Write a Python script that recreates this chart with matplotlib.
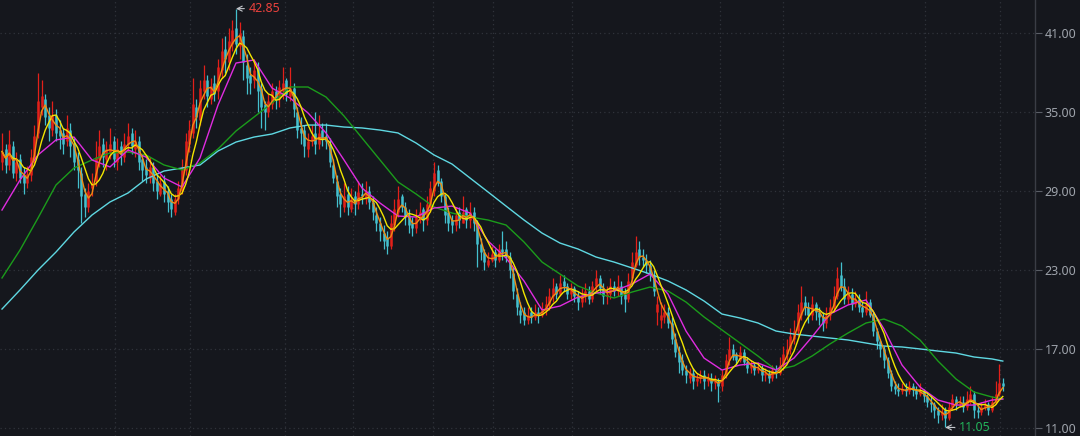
import matplotlib
matplotlib.use("Agg")
import matplotlib.pyplot as plt
import numpy as np
import pandas as pd

plt.rcParams["font.family"] = ["Noto Sans", "DejaVu Sans"]

# daily candles (left to right)
opens = [
    31.2, 32.2, 31.0, 32.4, 30.4, 31.4, 30.2, 29.6, 30.2, 31.4,
    33.4, 35.4, 36.0, 34.8, 33.6, 34.8, 33.6, 33.4, 32.8, 33.6,
    32.6, 31.4, 30.4, 28.8, 27.8, 29.2, 29.8, 31.4, 32.6, 31.4,
    32.0, 32.8, 31.2, 32.4, 31.6, 32.6, 33.4, 32.2, 32.8, 31.4,
    30.8, 30.0, 30.8, 29.8, 28.8, 29.8, 29.0, 28.4, 27.4, 28.4,
    29.0, 30.6, 32.6, 33.4, 35.4, 34.4, 36.6, 37.4, 36.0, 37.2,
    36.6, 38.2, 39.8, 38.8, 40.2, 41.4, 40.0, 40.8, 38.6, 37.8,
    37.4, 38.4, 36.8, 35.6, 35.0, 35.6, 36.6, 36.0, 36.6, 37.4,
    36.2, 36.8, 35.0, 33.8, 33.6, 32.2, 32.8, 33.4, 32.6, 33.6,
    33.2, 32.6, 31.0, 29.8, 28.8, 27.8, 28.8, 27.6, 28.6, 28.0,
    28.8, 28.4, 29.0, 28.2, 27.2, 26.6, 25.8, 25.4, 24.8, 26.4,
    27.4, 28.6, 27.8, 27.2, 26.6, 26.2, 27.0, 27.6, 26.8, 27.8,
    29.0, 30.6, 29.8, 28.6, 27.4, 26.8, 26.4, 27.4, 26.6, 27.6,
    26.8, 27.4, 26.6, 25.0, 24.4, 23.4, 23.8, 24.4, 23.8, 24.6,
    24.6, 24.0, 22.8, 21.2, 20.0, 19.8, 19.2, 19.8, 19.4, 19.8,
    19.6, 20.0, 20.4, 21.0, 21.8, 21.2, 22.2, 21.8, 21.2, 21.6,
    21.0, 20.6, 21.0, 21.4, 20.8, 21.8, 22.4, 21.6, 21.0, 21.2,
    21.8, 21.4, 21.8, 21.2, 20.8, 22.4, 23.4, 24.6, 24.0, 23.8,
    23.4, 22.6, 19.8, 19.2, 19.4, 19.8, 19.0, 17.8, 16.8, 16.2,
    15.4, 14.8, 15.2, 14.6, 14.8, 15.0, 14.6, 14.8, 14.4, 14.6,
    14.2, 15.0, 16.2, 17.0, 16.6, 16.2, 16.8, 16.0, 15.6, 15.8,
    15.4, 15.6, 15.0, 15.2, 14.8, 15.4, 15.2, 15.8, 16.6, 17.0,
    17.8, 18.4, 19.6, 20.6, 20.2, 19.6, 20.4, 19.8, 19.4, 19.0,
    19.6, 20.2, 21.0, 22.6, 21.8, 20.8, 21.2, 20.4, 20.8, 20.2,
    19.8, 20.6, 19.6, 18.4, 17.6, 17.0, 16.2, 15.2, 14.2, 14.0,
    13.8, 14.0, 13.8, 14.2, 13.9, 13.6, 13.8, 13.4, 13.0, 12.8,
    12.4, 12.0, 12.4, 11.8, 12.6, 13.2, 12.8, 13.0, 12.6, 13.0,
    13.6, 12.4, 12.2, 12.6, 12.8, 12.4, 13.0, 13.6, 14.4,
]
highs = [
    33.4, 32.6, 33.6, 32.8, 32.0, 31.8, 30.8, 30.9, 32.2, 34.0,
    38.0, 37.4, 36.4, 35.4, 35.8, 35.2, 34.4, 33.8, 34.8, 34.2,
    33.0, 32.0, 30.8, 29.2, 29.6, 30.4, 32.8, 33.6, 33.0, 32.8,
    33.8, 33.2, 33.0, 32.8, 33.4, 34.2, 33.8, 33.6, 33.2, 31.8,
    31.4, 31.6, 31.2, 30.2, 30.2, 30.2, 29.4, 28.8, 28.8, 29.8,
    31.4, 33.4, 34.4, 37.6, 36.0, 37.4, 38.6, 37.8, 37.6, 37.8,
    39.0, 40.6, 40.8, 41.4, 42.0, 42.85, 41.8, 41.2, 39.4, 38.4,
    39.0, 38.8, 37.2, 35.8, 36.4, 37.2, 37.0, 37.4, 38.4, 37.6,
    38.4, 37.2, 35.4, 34.6, 34.0, 33.4, 34.0, 35.0, 34.8, 34.2,
    34.2, 33.0, 31.4, 30.2, 29.2, 29.6, 29.4, 29.2, 29.0, 29.8,
    29.6, 29.8, 29.4, 28.6, 27.8, 27.0, 26.4, 26.0, 27.2, 28.4,
    29.4, 28.8, 28.2, 27.6, 27.0, 27.6, 28.2, 27.8, 28.6, 29.8,
    31.2, 31.0, 30.0, 28.8, 27.8, 27.2, 27.8, 27.8, 28.6, 27.8,
    28.2, 27.8, 26.8, 25.4, 24.6, 24.4, 24.8, 24.6, 25.0, 26.0,
    25.2, 24.4, 23.2, 21.6, 20.6, 20.2, 20.2, 20.2, 20.4, 20.2,
    20.6, 21.0, 21.6, 22.4, 22.0, 22.6, 22.6, 22.0, 22.0, 21.8,
    21.4, 21.6, 22.0, 21.8, 22.2, 23.0, 22.6, 22.0, 21.8, 22.4,
    22.2, 22.6, 22.2, 21.6, 22.8, 24.4, 25.6, 25.2, 24.6, 24.2,
    23.8, 23.0, 21.0, 20.6, 20.4, 20.2, 19.4, 18.2, 17.2, 16.6,
    15.8, 15.6, 15.6, 15.2, 15.4, 15.4, 15.2, 15.2, 15.0, 14.8,
    15.4, 16.6, 17.9, 17.4, 16.8, 17.2, 17.0, 16.4, 16.2, 16.0,
    16.0, 15.8, 15.6, 15.4, 15.8, 15.8, 16.4, 17.2, 17.8, 18.6,
    19.2, 20.4, 21.8, 21.0, 20.6, 21.0, 20.6, 20.2, 19.8, 20.2,
    20.8, 21.8, 23.2, 23.6, 22.4, 21.8, 21.6, 21.4, 21.2, 20.6,
    21.4, 20.8, 19.8, 18.6, 17.8, 17.2, 16.4, 15.4, 14.6, 14.4,
    14.4, 14.4, 14.6, 14.4, 14.2, 14.4, 14.0, 13.6, 13.4, 13.0,
    12.6, 12.8, 12.6, 13.0, 13.6, 13.4, 13.4, 13.4, 13.8, 14.2,
    13.8, 12.8, 13.0, 13.2, 13.0, 13.4, 14.6, 15.9, 14.8,
]
lows = [
    30.6, 30.4, 30.6, 30.0, 29.8, 29.6, 28.8, 29.2, 29.8, 31.0,
    33.0, 34.8, 34.0, 32.8, 33.2, 32.8, 32.2, 31.8, 32.4, 31.6,
    30.6, 29.2, 26.6, 27.0, 27.4, 28.6, 29.4, 30.8, 30.8, 30.6,
    31.4, 30.8, 30.6, 31.0, 31.2, 32.0, 31.8, 31.6, 30.6, 29.8,
    29.6, 29.6, 29.0, 28.4, 28.6, 28.2, 27.4, 27.0, 27.2, 28.0,
    28.8, 30.2, 32.0, 33.0, 33.8, 34.0, 36.0, 35.4, 35.6, 35.8,
    36.0, 37.6, 38.0, 38.2, 39.6, 39.4, 39.0, 37.4, 36.4, 36.4,
    36.8, 35.0, 33.8, 33.6, 34.6, 35.2, 35.2, 35.4, 36.0, 35.8,
    35.8, 34.6, 33.0, 32.6, 31.6, 31.6, 32.4, 31.8, 32.2, 32.4,
    32.2, 30.8, 29.6, 27.8, 27.0, 27.4, 27.2, 27.4, 27.2, 27.6,
    28.0, 28.0, 27.6, 26.8, 26.0, 25.2, 24.6, 24.2, 24.6, 26.0,
    27.0, 27.4, 26.4, 25.8, 25.6, 25.8, 26.6, 26.0, 26.4, 27.4,
    28.6, 29.4, 28.2, 26.6, 26.0, 25.8, 26.0, 26.2, 26.6, 26.2,
    26.2, 26.0, 23.2, 23.8, 23.0, 23.2, 23.6, 23.2, 23.6, 23.8,
    23.6, 22.4, 20.8, 19.6, 19.0, 18.8, 18.9, 19.0, 19.2, 19.0,
    19.4, 19.6, 20.0, 20.6, 20.8, 21.0, 21.4, 20.8, 20.8, 20.6,
    20.0, 20.2, 20.6, 20.4, 20.6, 21.4, 21.2, 20.4, 20.4, 20.8,
    21.0, 21.0, 20.4, 19.8, 20.6, 22.0, 23.2, 23.4, 23.2, 22.8,
    22.2, 21.0, 18.8, 18.6, 19.0, 18.6, 17.4, 16.4, 15.2, 15.0,
    14.4, 14.4, 14.0, 14.2, 14.4, 14.0, 14.2, 13.8, 14.0, 13.0,
    13.8, 14.8, 15.8, 16.2, 15.8, 16.0, 15.8, 15.2, 15.2, 15.0,
    15.2, 14.6, 14.6, 14.4, 14.6, 14.8, 15.0, 15.4, 16.2, 16.6,
    17.4, 18.0, 19.2, 19.6, 19.0, 19.2, 19.2, 18.8, 18.4, 18.6,
    19.2, 19.8, 20.8, 21.4, 20.4, 20.4, 20.0, 20.2, 19.8, 19.4,
    19.6, 19.4, 18.0, 17.0, 16.4, 15.6, 14.8, 13.8, 13.6, 13.4,
    13.6, 13.4, 13.6, 13.4, 13.2, 13.4, 13.0, 12.6, 12.2, 11.8,
    11.4, 11.6, 11.05, 11.6, 12.4, 12.4, 12.6, 12.2, 12.4, 12.8,
    11.8, 11.8, 12.0, 12.4, 12.0, 12.2, 12.8, 13.4, 13.8,
]
closes = [
    32.0, 31.0, 32.6, 30.4, 31.2, 30.0, 29.6, 30.3, 31.6, 33.2,
    35.8, 36.2, 34.6, 33.8, 34.8, 33.4, 33.2, 32.6, 33.8, 32.4,
    31.2, 30.6, 28.6, 27.8, 29.0, 29.6, 31.6, 32.4, 31.6, 32.2,
    32.6, 31.4, 32.2, 31.8, 32.6, 33.2, 32.4, 32.8, 31.2, 30.6,
    30.2, 30.8, 29.6, 29.0, 29.6, 28.8, 28.2, 27.6, 28.4, 29.2,
    30.8, 32.8, 33.6, 35.6, 34.6, 36.8, 37.4, 36.2, 37.0, 36.4,
    38.4, 39.6, 39.0, 40.4, 41.2, 40.2, 41.0, 38.8, 37.6, 37.2,
    38.2, 36.6, 35.4, 35.0, 35.8, 36.6, 36.0, 36.9, 37.2, 36.4,
    36.8, 35.2, 33.6, 33.4, 32.4, 32.8, 33.2, 32.6, 33.4, 33.0,
    32.8, 31.2, 30.0, 28.6, 28.0, 28.6, 27.8, 28.4, 28.0, 28.9,
    28.6, 29.0, 28.2, 27.4, 26.6, 26.0, 25.2, 24.8, 26.6, 27.6,
    28.4, 27.8, 27.0, 26.4, 26.2, 27.0, 27.4, 26.8, 28.0, 29.2,
    30.4, 29.6, 28.6, 27.2, 26.6, 26.4, 27.2, 26.8, 27.4, 26.8,
    27.4, 26.6, 25.0, 24.4, 23.6, 23.8, 24.2, 23.8, 24.6, 24.4,
    24.0, 23.0, 21.4, 20.2, 19.6, 19.2, 19.6, 19.4, 19.8, 19.6,
    20.0, 20.4, 21.0, 21.6, 21.2, 22.0, 21.8, 21.2, 21.6, 21.0,
    20.6, 21.0, 21.4, 20.8, 21.8, 22.4, 21.6, 21.0, 21.2, 21.8,
    21.4, 21.8, 21.0, 20.8, 22.2, 23.6, 24.4, 24.0, 23.8, 23.4,
    22.6, 21.4, 20.4, 19.6, 19.8, 19.0, 17.8, 16.8, 16.0, 15.4,
    15.0, 15.2, 14.6, 14.8, 15.0, 14.6, 14.8, 14.4, 14.6, 14.2,
    15.0, 16.2, 17.0, 16.4, 16.2, 16.8, 16.0, 15.6, 15.8, 15.4,
    15.6, 15.0, 15.2, 14.8, 15.4, 15.2, 15.8, 16.6, 17.0, 18.0,
    18.4, 19.8, 20.6, 20.2, 19.6, 20.4, 19.8, 19.4, 19.0, 19.6,
    20.2, 21.0, 22.4, 21.8, 20.8, 21.2, 20.4, 20.8, 20.2, 19.8,
    20.4, 19.6, 18.4, 17.6, 17.0, 16.2, 15.2, 14.2, 14.0, 13.8,
    14.0, 13.8, 14.2, 13.9, 13.6, 13.8, 13.4, 13.0, 12.8, 12.4,
    12.0, 12.2, 11.8, 12.6, 13.2, 12.8, 13.0, 12.6, 13.2, 13.6,
    12.4, 12.2, 12.6, 12.8, 12.4, 13.0, 13.6, 14.4, 14.2,
]

# slower averages, every 5th candle
ma_idx = list(range(0, 276, 5)) + [278]
ma20 = [27.56, 29.84, 31.74, 32.88, 33.10, 31.36, 30.83, 32.12, 31.58, 29.99,
        29.31, 31.51, 35.53, 38.72, 38.95, 36.82, 36.06, 34.93, 33.41, 31.36,
        29.23, 28.09, 27.10, 27.03, 27.71, 27.86, 27.33, 25.21, 23.92, 22.17,
        19.97, 20.27, 20.95, 21.26, 21.41, 21.94, 22.70, 21.18, 18.37, 16.32,
        15.41, 15.79, 15.94, 15.41, 16.32, 17.92, 19.66, 20.35, 20.73, 18.52,
        15.79, 14.12, 13.13, 12.75, 12.75, 13.13, 13.21]
ma60 = [22.40, 24.52, 26.95, 29.46, 30.75, 31.36, 31.89, 31.96, 31.74, 30.98,
        30.60, 31.13, 32.19, 33.56, 34.62, 35.68, 36.90, 36.90, 36.14, 34.70,
        33.03, 31.36, 29.69, 28.78, 27.79, 27.33, 27.03, 26.80, 26.42, 25.13,
        23.61, 22.70, 21.79, 21.26, 20.88, 21.33, 21.71, 21.41, 20.57, 19.44,
        18.45, 17.46, 16.47, 15.41, 15.72, 16.47, 17.39, 18.22, 18.98, 19.28,
        18.75, 17.69, 16.09, 14.73, 13.74, 13.36, 13.21]
ma_long = [20.04, 21.49, 23.00, 24.37, 25.89, 27.18, 28.17, 28.85, 29.91, 30.52,
           30.75, 30.98, 32.04, 32.72, 33.10, 33.33, 33.79, 34.01, 34.01, 33.86,
           33.79, 33.63, 33.41, 32.65, 31.74, 31.05, 29.99, 28.93, 27.86, 26.80,
           25.81, 25.05, 24.60, 23.99, 23.61, 23.16, 22.70, 22.17, 21.49, 20.65,
           19.66, 19.36, 18.98, 18.37, 18.14, 17.99, 17.84, 17.69, 17.46, 17.23,
           17.16, 17.01, 16.85, 16.70, 16.40, 16.25, 16.09]

y_ticks = [11, 17, 23, 29, 35, 41]
month_lines = [31.4, 52.2, 78.6, 97.5, 119.7, 136.4, 158.3, 199.4, 216.9, 256.4, 277.2]
peak_idx, peak_val = 65, 42.85
low_idx, low_val = 262, 11.05

BG = "#15171d"
RED = "#e3201a"
TEAL = "#44c0ce"
GRID = "#30333b"

o = np.array(opens)
h = np.array(highs)
l = np.array(lows)
c = np.array(closes)
x = np.arange(len(c))

fig = plt.figure(figsize=(10.8, 4.36), dpi=100, facecolor=BG)
ax = fig.add_axes([0, 0, 1035 / 1080, 1])
ax.set_facecolor(BG)

for v in y_ticks:
    ax.axhline(v, color=GRID, lw=0.9, ls=(0, (1, 2.5)), zorder=0)
for v in month_lines:
    ax.axvline(v, color=GRID, lw=0.9, ls=(0, (1, 2.5)), zorder=0)

up = c >= o
dn = ~up
ax.vlines(x[up], l[up], h[up], color=RED, lw=0.9, zorder=2)
ax.vlines(x[up], o[up], c[up], color=RED, lw=1.8, zorder=2)
ax.vlines(x[dn], l[dn], h[dn], color=TEAL, lw=0.9, zorder=2)
ax.vlines(x[dn], c[dn], o[dn], color=TEAL, lw=1.8, zorder=2)

s = pd.Series(c)
ma_fast = s.rolling(3, min_periods=1).mean()
ma_mid = s.rolling(6, min_periods=1).mean()

ax.plot(ma_idx, ma_long, color="#5fd8e2", lw=1.0, zorder=3)
ax.plot(ma_idx, ma60, color="#1b9c1b", lw=1.0, zorder=3)
ax.plot(ma_idx, ma20, color="#e02ce0", lw=1.0, zorder=3)
ax.plot(x, ma_mid, color="#f2e600", lw=1.0, zorder=4)
ax.plot(x, ma_fast, color="#f08c12", lw=1.0, zorder=4)

ax.annotate(f"{peak_val:.2f}", xy=(peak_idx, peak_val), xytext=(9, 0),
            textcoords="offset points", color="#e8413c", fontsize=9,
            ha="left", va="center",
            arrowprops=dict(arrowstyle="->", color="#c4c7cc", lw=0.8,
                            shrinkA=1, shrinkB=0))
ax.annotate(f"{low_val:.2f}", xy=(low_idx, low_val), xytext=(10, 0),
            textcoords="offset points", color="#22b35a", fontsize=9,
            ha="left", va="center",
            arrowprops=dict(arrowstyle="->", color="#c4c7cc", lw=0.8,
                            shrinkA=1, shrinkB=0))

ax.set_xlim(-2 / 3.6, 1033 / 3.6)
ax.set_ylim(41 - 403 / 13.17, 41 + 33 / 13.17)
ax.set_xticks([])
ax.yaxis.tick_right()
ax.set_yticks(y_ticks)
ax.set_yticklabels([f"{v:.2f}" for v in y_ticks])
ax.tick_params(axis="y", colors="#5a5e66", labelcolor="#9ea3ab",
               length=5, width=0.8, pad=2, labelsize=9)
for side in ("top", "left", "bottom"):
    ax.spines[side].set_visible(False)
ax.spines["right"].set_color("#3a3d45")
ax.spines["right"].set_linewidth(1.0)

fig.savefig("out.png", dpi=100, facecolor=BG)
